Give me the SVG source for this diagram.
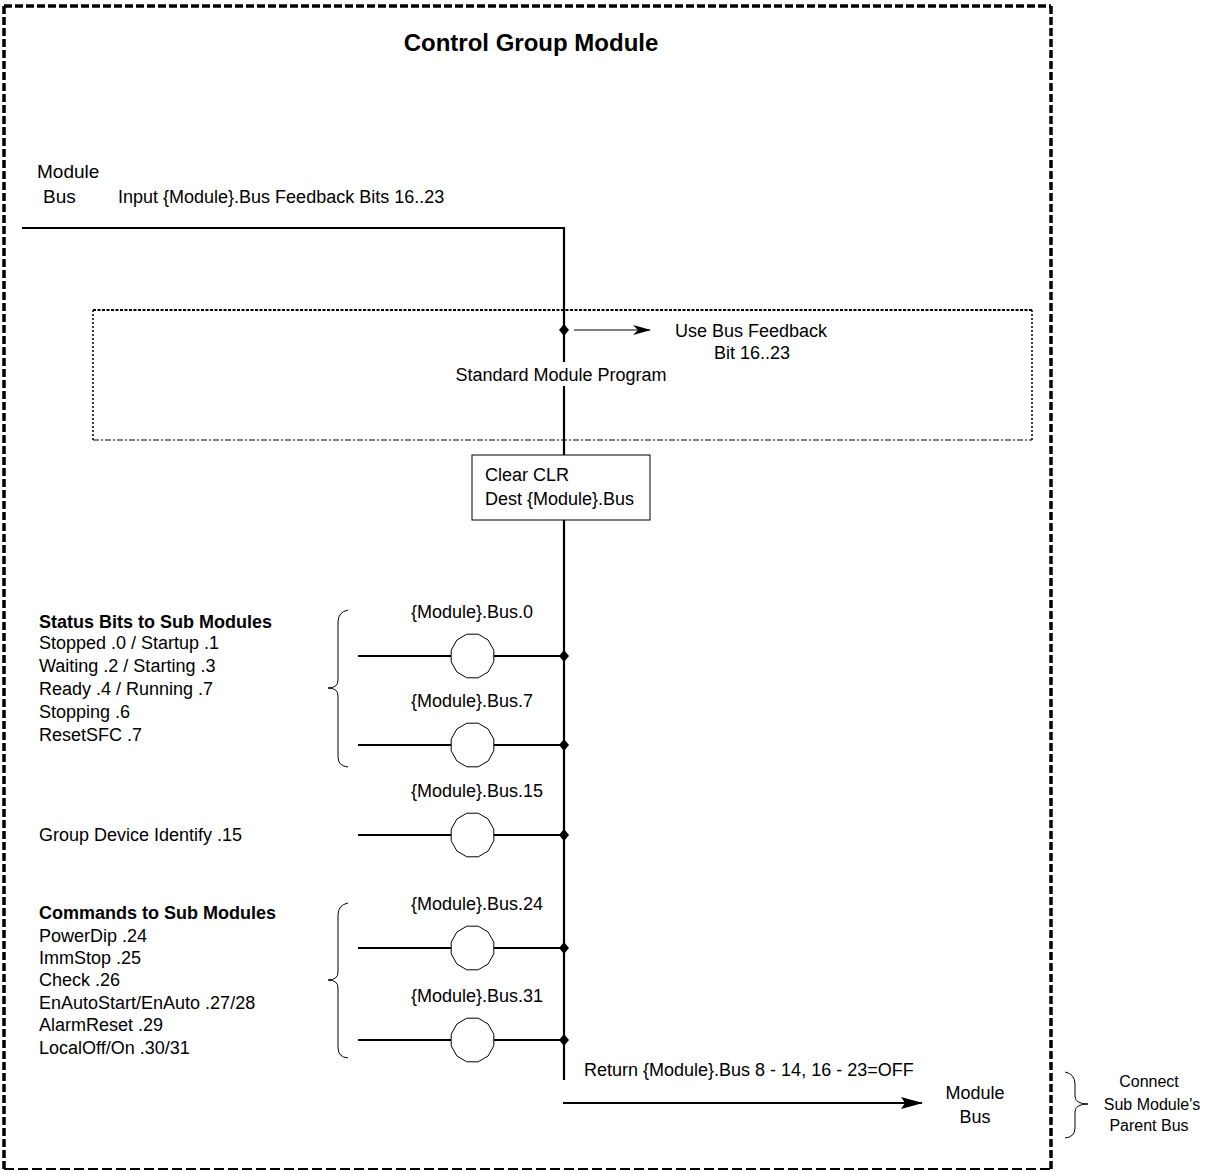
<svg xmlns="http://www.w3.org/2000/svg" width="1208" height="1171" viewBox="0 0 1208 1171">
  <style>
    text { font-family: "Liberation Sans", Arial, sans-serif; font-size: 18px; fill: #000; }
    .title { font-size: 24px; font-weight: bold; }
    .head { font-weight: bold; }
    .small { font-size: 16px; }
    .mid { text-anchor: middle; }
    .bus { stroke: #000; stroke-width: 2.2; fill: none; }
    .rung { stroke: #000; stroke-width: 2.2; fill: none; }
    .coil { stroke: #000; stroke-width: 1; fill: #fff; }
    .brace { stroke: #000; stroke-width: 1; fill: none; }
    .outer { stroke: #000; stroke-width: 3.5; fill: none; stroke-dasharray: 8 3; }
    .outer-bottom { stroke: #000; stroke-width: 2; fill: none; stroke-dasharray: 10 4; }
    .frame-top { stroke: #000; stroke-width: 2; fill: none; stroke-dasharray: 3 1.5; }
    .frame-side { stroke: #000; stroke-width: 1.5; fill: none; stroke-dasharray: 2 2; }
    .frame-bottom { stroke: #000; stroke-width: 1; fill: none; stroke-dasharray: 6 2 2 2; }
    .box { stroke: #000; stroke-width: 1; fill: #fff; }
    .dot { fill: #000; }
  </style>
  <defs>
    <marker id="thinHead" markerWidth="18" markerHeight="10" refX="17" refY="5" orient="auto" markerUnits="userSpaceOnUse">
      <path d="M0,0 L18,5 L0,10 L5,5 z" fill="#000"/>
    </marker>
    <marker id="busHead" markerWidth="22" markerHeight="12" refX="21" refY="6" orient="auto" markerUnits="userSpaceOnUse">
      <path d="M0,0 L22,6 L0,12 L4,6 z" fill="#000"/>
    </marker>
    <!-- coil symbol: 12-sided polygon -->
    <polygon id="coil" class="coil" points="5.7,-21.8 15.6,-16 21.3,-5.8 21.3,5.8 15.6,16 5.7,21.8 -5.7,21.8 -15.6,16 -21.3,5.8 -21.3,-5.8 -15.6,-16 -5.7,-21.8"/>
    <path id="junction" class="dot" d="M0,-6 L5,0 L0,6 L-5,0 z"/>
  </defs>

  <!-- outer module boundary -->
  <g id="module-frame">
    <line class="outer" x1="4" y1="6" x2="1051" y2="6"/>
    <line class="outer" x1="4" y1="6" x2="4" y2="1169"/>
    <line class="outer" x1="1051" y1="6" x2="1051" y2="1169"/>
    <line class="outer-bottom" x1="4" y1="1169" x2="1051" y2="1169"/>
    <text class="title mid" x="531" y="51">Control Group Module</text>
  </g>

  <!-- incoming bus labels -->
  <g id="bus-in">
    <text x="37" y="178" style="font-size:19px">Module</text>
    <text x="43" y="203" style="font-size:19px">Bus</text>
    <text x="118" y="203">Input {Module}.Bus Feedback Bits 16..23</text>
  </g>

  <!-- bus lines, rungs and junctions -->
  <g id="connectors">
    <polyline class="bus" points="22,228 564,228 564,455"/>
    <line class="bus" x1="564" y1="520" x2="564" y2="1080"/>
    <line class="rung" x1="574" y1="330" x2="650" y2="330" style="stroke-width:1.2" marker-end="url(#thinHead)"/>
    <line class="rung" x1="358" y1="656" x2="451" y2="656"/>
    <line class="rung" x1="494" y1="656" x2="564" y2="656"/>
    <line class="rung" x1="358" y1="745" x2="451" y2="745"/>
    <line class="rung" x1="494" y1="745" x2="564" y2="745"/>
    <line class="rung" x1="358" y1="835" x2="451" y2="835"/>
    <line class="rung" x1="494" y1="835" x2="564" y2="835"/>
    <line class="rung" x1="358" y1="948" x2="451" y2="948"/>
    <line class="rung" x1="494" y1="948" x2="564" y2="948"/>
    <line class="rung" x1="358" y1="1040" x2="451" y2="1040"/>
    <line class="rung" x1="494" y1="1040" x2="564" y2="1040"/>
    <line class="bus" x1="563" y1="1103" x2="922" y2="1103" marker-end="url(#busHead)"/>
    <use href="#junction" x="564" y="330"/>
    <use href="#junction" x="564" y="656"/>
    <use href="#junction" x="564" y="745"/>
    <use href="#junction" x="564" y="835"/>
    <use href="#junction" x="564" y="948"/>
    <use href="#junction" x="564" y="1040"/>
  </g>

  <!-- standard program frame -->
  <g id="standard-program">
    <line class="frame-top" x1="93" y1="310" x2="1032" y2="310"/>
    <line class="frame-side" x1="93" y1="310" x2="93" y2="440"/>
    <line class="frame-side" x1="1032" y1="310" x2="1032" y2="440"/>
    <line class="frame-bottom" x1="93" y1="440" x2="1032" y2="440"/>
    <rect x="451" y="362" width="220" height="24" fill="#fff"/>
    <text class="mid" x="561" y="381">Standard Module Program</text>
  </g>

  <g id="feedback-use">
    <text x="675" y="337">Use Bus Feedback</text>
    <text class="mid" x="752" y="359">Bit 16..23</text>
  </g>

  <!-- clear instruction -->
  <g id="clear-clr">
    <rect class="box" x="472" y="455" width="178" height="65"/>
    <text x="485" y="481">Clear CLR</text>
    <text x="485" y="505">Dest  {Module}.Bus</text>
  </g>

  <!-- status bits group -->
  <g id="status-bits">
    <text class="head" x="39" y="628">Status Bits to Sub Modules</text>
    <text x="39" y="649">Stopped .0 / Startup .1</text>
    <text x="39" y="672">Waiting .2 / Starting .3</text>
    <text x="39" y="695">Ready .4 / Running .7</text>
    <text x="39" y="718">Stopping .6</text>
    <text x="39" y="741">ResetSFC .7</text>
    <path class="brace" d="M348,610 Q338,612 338,622 L338,680 Q338,688 328,688 Q338,688 338,696 L338,757 Q338,766 348,767"/>
  </g>

  <g id="rung-bus0">
    <text x="411" y="618">{Module}.Bus.0</text>
    <use href="#coil" x="472.5" y="656"/>
  </g>
  <g id="rung-bus7">
    <text x="411" y="707">{Module}.Bus.7</text>
    <use href="#coil" x="472.5" y="745"/>
  </g>
  <g id="rung-bus15">
    <text x="411" y="797">{Module}.Bus.15</text>
    <use href="#coil" x="472.5" y="835"/>
    <text x="39" y="841">Group Device Identify .15</text>
  </g>

  <!-- command bits group -->
  <g id="commands">
    <text class="head" x="39" y="919">Commands to Sub Modules</text>
    <text x="39" y="942">PowerDip .24</text>
    <text x="39" y="964">ImmStop .25</text>
    <text x="39" y="986">Check .26</text>
    <text x="39" y="1009">EnAutoStart/EnAuto .27/28</text>
    <text x="39" y="1031">AlarmReset .29</text>
    <text x="39" y="1054">LocalOff/On .30/31</text>
    <path class="brace" d="M348,903 Q338,905 338,915 L338,972 Q338,980 328,980 Q338,980 338,988 L338,1048 Q338,1057 348,1058"/>
  </g>

  <g id="rung-bus24">
    <text x="411" y="910">{Module}.Bus.24</text>
    <use href="#coil" x="472.5" y="948"/>
  </g>
  <g id="rung-bus31">
    <text x="411" y="1002">{Module}.Bus.31</text>
    <use href="#coil" x="472.5" y="1040"/>
  </g>

  <!-- outgoing bus -->
  <g id="bus-out">
    <text x="584" y="1076">Return {Module}.Bus 8 - 14, 16 - 23=OFF</text>
    <text class="mid" x="975" y="1099">Module</text>
    <text class="mid" x="975" y="1123">Bus</text>
  </g>

  <g id="parent-bus-note">
    <path class="brace" d="M1065,1072 Q1075,1074 1075,1084 L1075,1096 Q1075,1104 1088,1104 Q1075,1104 1075,1112 L1075,1128 Q1075,1137 1065,1138"/>
    <text class="small mid" x="1149" y="1087">Connect</text>
    <text class="small mid" x="1152" y="1110">Sub Module's</text>
    <text class="small mid" x="1149" y="1131">Parent Bus</text>
  </g>
</svg>
